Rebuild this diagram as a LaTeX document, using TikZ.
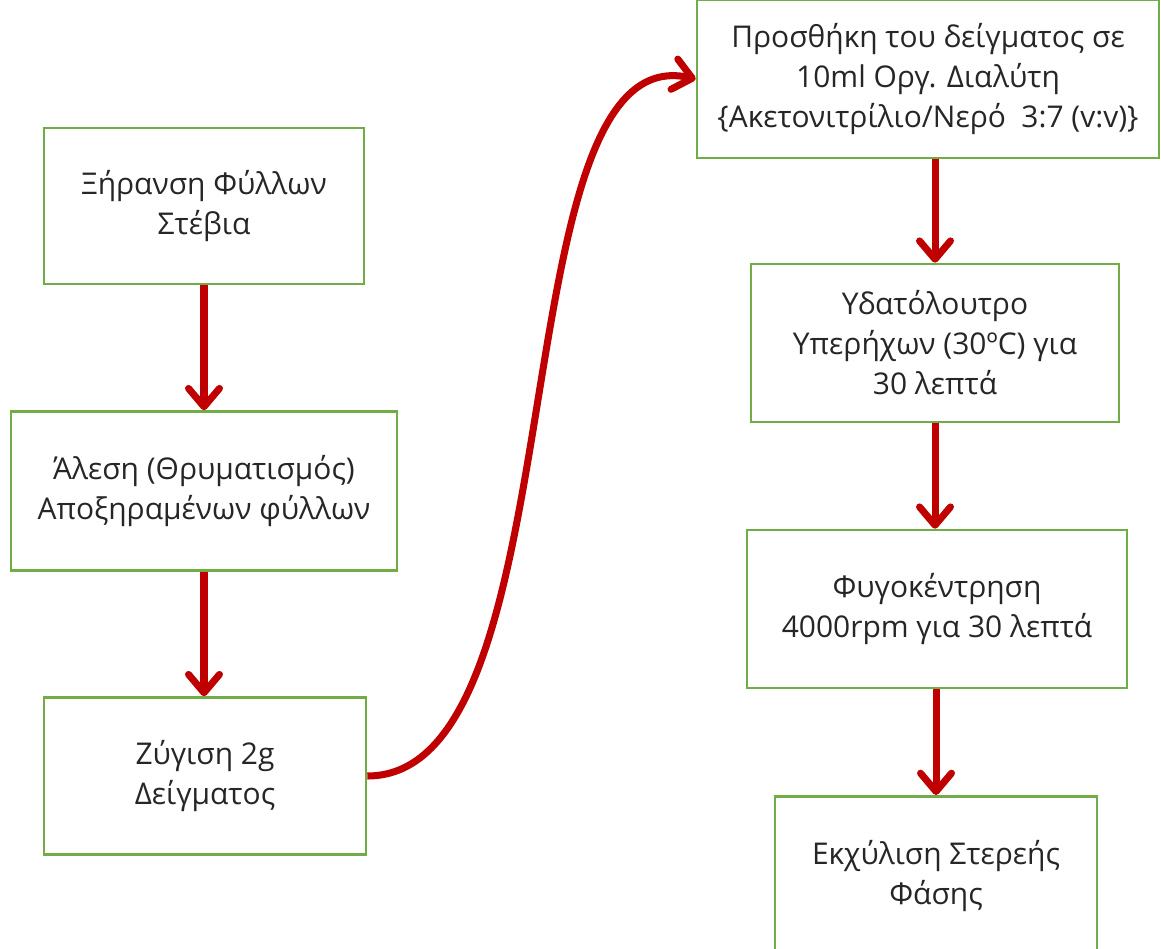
\documentclass[tikz,border=0pt]{standalone}
\usepackage{fontspec}
\setmainfont{Open Sans}
\usetikzlibrary{arrows.meta}
\definecolor{boxgreen}{HTML}{70AD47}
\definecolor{arrred}{HTML}{C00000}
\definecolor{txtgray}{HTML}{262626}
\tikzstyle{box}=[draw=boxgreen,line width=1.8pt,align=center,text=txtgray,inner sep=0pt,
  font=\fontsize{21.3}{28.5}\selectfont]
\tikzstyle{arr}=[-{Straight Barb[length=13pt,width=22pt,line cap=round,line join=round]},line width=5pt,color=arrred]

\begin{document}
\begin{tikzpicture}[x=0.025cm,y=-0.025cm]
  \useasboundingbox (0,0) rectangle (1161,948);
  % left column
  \node[box,minimum width=8cm,minimum height=3.9cm] (xer) at (204,206) {Ξήρανση Φύλλων\\Στέβια};
  \node[box,minimum width=9.65cm,minimum height=3.975cm] (ales) at (204,491) {Άλεση (Θρυματισμός)\\Αποξηραμένων φύλλων};
  \node[box,minimum width=8.05cm,minimum height=3.925cm] (zyg) at (205,776) {Ζύγιση 2g\\Δείγματος};
  % right column
  \node[box,minimum width=11.55cm,minimum height=3.95cm] (pros) at (928,79) {Προσθήκη του δείγματος σε\\10ml Οργ. Διαλύτη\\\{Ακετονιτρίλιο/Νερό~ 3:7 (v:v)\}};
  \node[box,minimum width=9.2cm,minimum height=3.95cm] (ydat) at (935,343) {Υδατόλουτρο\\Υπερήχων (30ºC) για\\30 λεπτά};
  \node[box,minimum width=9.5cm,minimum height=3.95cm] (fyg) at (937,609) {Φυγοκέντρηση\\4000rpm για 30 λεπτά};
  \node[box,minimum width=8.05cm,minimum height=4cm,anchor=north] (ekx) at (936,795) {Εκχύλιση Στερεής\\Φάσης};

  \draw[arr] (xer.south) -- (xer.south |- ales.north);
  \draw[arr] (ales.south) -- (ales.south |- zyg.north);
  \draw[arr] (zyg.east) .. controls +(215,0) and +(-200,-45) .. (pros.west);
  \draw[arr] (pros.south -| ydat.north) -- (ydat.north);
  \draw[arr] (ydat.south) -- (ydat.south |- fyg.north);
  \draw[arr] (fyg.south -| ekx.north) -- (ekx.north);
\end{tikzpicture}
\end{document}
